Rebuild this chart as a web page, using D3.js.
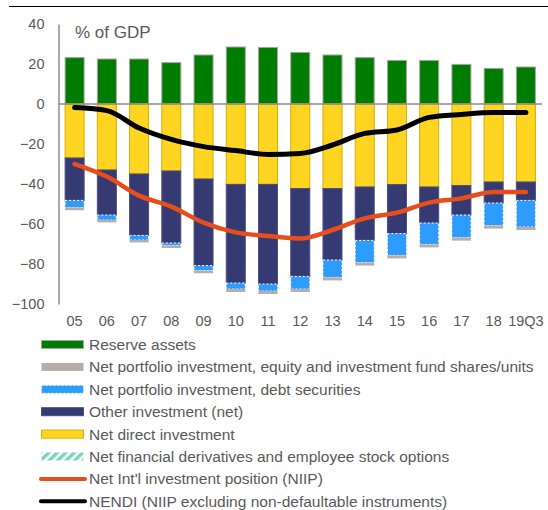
<!DOCTYPE html>
<html>
<head>
<meta charset="utf-8">
<script src="https://cdn.jsdelivr.net/npm/d3@7"></script>
<style>
  body { margin: 0; background: #fff; }
  svg { display: block; font-family: "Liberation Sans", Arial, sans-serif; }
</style>
</head>
<body>
<div id="chart"></div>
<script>
// categories and series, % of GDP
var years = ["05","06","07","08","09","10","11","12","13","14","15","16","17","18","19Q3"];
var reserveAssets = [23.2, 22.5, 22.5, 20.7, 24.5, 28.5, 28.3, 25.8, 24.5, 23.2, 21.8, 21.8, 19.8, 17.8, 18.5];
var directInv     = [-27, -33, -35, -33.5, -37.5, -40.2, -40.2, -42.3, -42.3, -41.5, -40.3, -41.5, -40.8, -39, -39];
var otherInv      = [-21.2, -22.5, -30.7, -36, -43.3, -49.3, -49.8, -43.9, -35.7, -26.7, -24.5, -18, -14.7, -10.5, -9.2];
var debtSec       = [-3.6, -2.5, -2.3, -1.3, -2.5, -3, -3.5, -6.3, -8.7, -11.1, -10.9, -10.7, -11.3, -11.3, -13.3];
var equitySec     = [-1.3, -1.2, -1.2, -1.2, -1.3, -1.5, -1.5, -1.5, -1.5, -1.5, -1.5, -1.5, -1.5, -1.5, -1.5];
var derivatives   = [0, 0, 0, 0, 0, 0, 0, 0, 0, 0, 0, 0, 0, 0, 0];
var niip  = [-30, -36.3, -45.8, -51.3, -59.3, -64.2, -66, -67.3, -63, -57.2, -54.3, -49.3, -47.2, -44, -44];
var nendi = [-1.8, -3.3, -12, -17.7, -21.3, -23.3, -25.2, -24.7, -20.5, -14.7, -13, -6.7, -5.2, -4.3, -4.3];
var yTicks = [40, 20, 0, -20, -40, -60, -80, -100];

var textColor = "#595959";
var width = 548, height = 510;
var margin = {top: 24, left: 58.5, right: 6, bottom: 206};

var svg = d3.select("#chart").append("svg")
  .attr("width", width)
  .attr("height", height);

// hatch pattern for derivatives
var defs = svg.append("defs");
var pat = defs.append("pattern")
  .attr("id", "hatch")
  .attr("patternUnits", "userSpaceOnUse")
  .attr("width", 6).attr("height", 6)
  .attr("patternTransform", "rotate(45)");
pat.append("rect").attr("width", 6).attr("height", 6).attr("fill", "#fff");
pat.append("rect").attr("width", 3.5).attr("height", 6).attr("fill", "#7dd3bd");

// top rule
svg.append("line")
  .attr("x1", 9).attr("x2", width).attr("y1", 6.5).attr("y2", 6.5)
  .attr("stroke", "#000").attr("stroke-width", 1.2);

var x = d3.scaleBand()
  .domain(years)
  .range([margin.left, width - margin.right])
  .paddingInner(0.41)
  .paddingOuter(0.205);

var y = d3.scaleLinear()
  .domain([-100, 40])
  .range([height - margin.bottom, margin.top]);

// series, in stacking order (closest to zero first)
var series = [
  {name: "Reserve assets", values: reserveAssets, fill: "#007c00", stroke: "#a6a6a6"},
  {name: "Net direct investment", values: directInv, fill: "#ffd521", stroke: "#d9ac00"},
  {name: "Other investment (net)", values: otherInv, fill: "#363a72", stroke: "#4a4e80"},
  {name: "Net portfolio investment, debt securities", values: debtSec, fill: "#2e9bff", stroke: "#ffffff", dash: "2,2"},
  {name: "Net portfolio investment, equity and investment fund shares/units", values: equitySec, fill: "#b9ada7", stroke: "none"},
  {name: "Net financial derivatives and employee stock options", values: derivatives, fill: "url(#hatch)", stroke: "none"}
];

var posBase = years.map(function() { return 0; });
var negBase = years.map(function() { return 0; });
series.forEach(function(s) {
  s.segs = s.values.map(function(v, i) {
    var y0, y1;
    if (v >= 0) { y0 = posBase[i]; y1 = posBase[i] + v; posBase[i] = y1; }
    else { y0 = negBase[i]; y1 = negBase[i] + v; negBase[i] = y1; }
    return {year: years[i], y0: y0, y1: y1, v: v};
  });
});

series.forEach(function(s) {
  svg.append("g").selectAll("rect")
    .data(s.segs.filter(function(d) { return d.v !== 0; }))
    .enter().append("rect")
    .attr("x", function(d) { return x(d.year); })
    .attr("width", x.bandwidth())
    .attr("y", function(d) { return y(Math.max(d.y0, d.y1)); })
    .attr("height", function(d) { return Math.abs(y(d.y0) - y(d.y1)); })
    .attr("fill", s.fill)
    .attr("stroke", s.stroke)
    .attr("stroke-width", 1)
    .attr("stroke-dasharray", s.dash || null);
});

// zero line
svg.append("line")
  .attr("x1", margin.left).attr("x2", width - margin.right)
  .attr("y1", y(0)).attr("y2", y(0))
  .attr("stroke", "#8c8c8c").attr("stroke-width", 1.5);

// y axis
var yAxis = svg.append("g")
  .attr("transform", "translate(" + margin.left + ",0)")
  .call(d3.axisLeft(y).tickValues(yTicks).tickSize(0).tickPadding(14));
yAxis.select(".domain").attr("stroke", "#8c8c8c").attr("stroke-width", 1.5);
yAxis.selectAll("text").attr("fill", textColor).style("font-size", "14.5px")
  .style("font-family", "Liberation Sans, Arial, sans-serif");

// x axis labels
var xAxis = svg.append("g")
  .attr("transform", "translate(0," + (height - margin.bottom) + ")")
  .call(d3.axisBottom(x).tickSize(0).tickPadding(12));
xAxis.select(".domain").remove();
xAxis.selectAll("text").attr("fill", textColor).style("font-size", "14.5px")
  .style("font-family", "Liberation Sans, Arial, sans-serif");

// lines
var line = d3.line()
  .x(function(d, i) { return x(years[i]) + x.bandwidth() / 2; })
  .y(function(d) { return y(d); })
  .curve(d3.curveMonotoneX);

svg.append("path")
  .datum(niip)
  .attr("fill", "none")
  .attr("stroke", "#e84e1b")
  .attr("stroke-width", 4.5)
  .attr("stroke-linecap", "round")
  .attr("stroke-linejoin", "round")
  .attr("d", line);

svg.append("path")
  .datum(nendi)
  .attr("fill", "none")
  .attr("stroke", "#000")
  .attr("stroke-width", 5)
  .attr("stroke-linecap", "round")
  .attr("stroke-linejoin", "round")
  .attr("d", line);

svg.append("text")
  .attr("x", 75).attr("y", 38)
  .attr("fill", textColor)
  .style("font-size", "17px")
  .text("% of GDP");

// legend
var legendItems = [
  {name: "Reserve assets", type: "rect", fill: "#007c00", stroke: "#a6a6a6"},
  {name: "Net portfolio investment, equity and investment fund shares/units", type: "rect", fill: "#b9ada7", stroke: "none"},
  {name: "Net portfolio investment, debt securities", type: "rect", fill: "#2e9bff", stroke: "#ffffff", dash: "2,2"},
  {name: "Other investment (net)", type: "rect", fill: "#363a72", stroke: "#4a4e80"},
  {name: "Net direct investment", type: "rect", fill: "#ffd521", stroke: "#d9ac00"},
  {name: "Net financial derivatives and employee stock options", type: "rect", fill: "url(#hatch)", stroke: "none"},
  {name: "Net Int'l investment position (NIIP)", type: "line", color: "#e84e1b"},
  {name: "NENDI (NIIP excluding non-defaultable instruments)", type: "line", color: "#000"}
];

var legend = svg.append("g").selectAll("g")
  .data(legendItems)
  .enter().append("g")
  .attr("transform", function(d, i) { return "translate(0," + (344.5 + i * 22.4) + ")"; });

legend.filter(function(d) { return d.type === "rect"; })
  .append("rect")
  .attr("x", 41.5).attr("y", -4)
  .attr("width", 42).attr("height", 8)
  .attr("fill", function(d) { return d.fill; })
  .attr("stroke", function(d) { return d.stroke; })
  .attr("stroke-dasharray", function(d) { return d.dash || null; });

legend.filter(function(d) { return d.type === "line"; })
  .append("line")
  .attr("x1", 41).attr("x2", 85)
  .attr("y1", 0).attr("y2", 0)
  .attr("stroke", function(d) { return d.color; })
  .attr("stroke-width", 4)
  .attr("stroke-linecap", "round");

legend.append("text")
  .attr("x", 89).attr("y", 0)
  .attr("dy", "0.35em")
  .attr("fill", textColor)
  .style("font-size", "15.5px")
  .text(function(d) { return d.name; });
</script>
</body>
</html>
